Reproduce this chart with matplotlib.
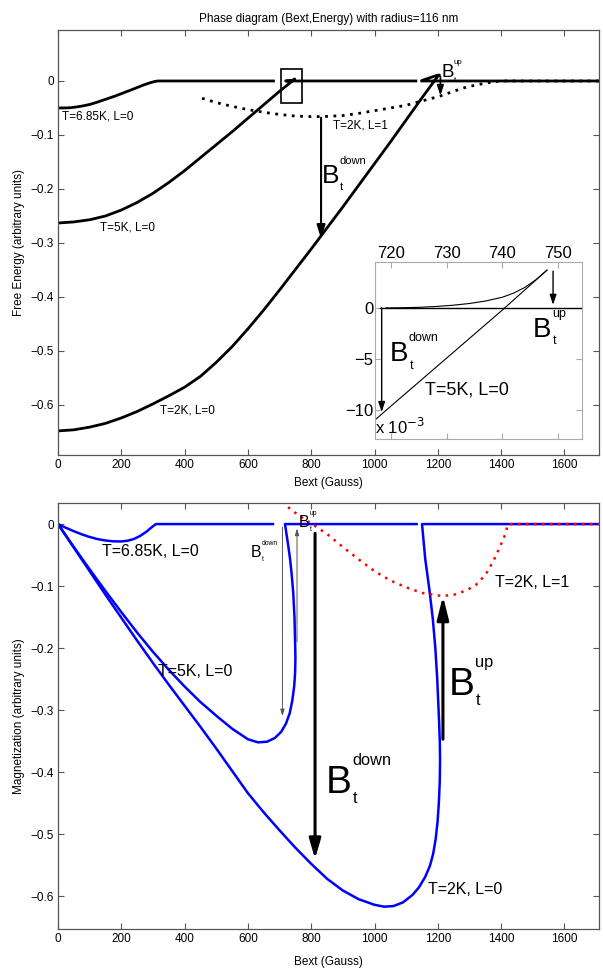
import matplotlib
matplotlib.use("Agg")
import matplotlib.pyplot as plt
from matplotlib.patches import Rectangle

plt.rcParams['font.family'] = ['Liberation Sans', 'DejaVu Sans']

# ---------------- data: top panel (free energy) ----------------
e685_B = [0, 20, 40, 60, 80, 100, 120, 140, 160, 180, 200, 220, 240, 255, 270, 280, 290, 305, 315, 685]
e685_E = [-0.0500, -0.0499, -0.0495, -0.0480, -0.0460, -0.0435, -0.0400, -0.0360, -0.0320,
          -0.0280, -0.0235, -0.0190, -0.0145, -0.0110, -0.0075, -0.0055, -0.0035, -0.0010, 0.0, 0.0]

e5_B = [0, 50, 100, 150, 200, 250, 300, 350, 400, 450, 500, 550, 600, 650, 700, 717, 748,
        744, 740, 735, 730, 725, 719, 1135]
e5_E = [-0.263, -0.261, -0.257, -0.250, -0.239, -0.225, -0.208, -0.188, -0.166, -0.142,
        -0.118, -0.094, -0.069, -0.044, -0.019, -0.011, 0.0037,
        0.0021, 0.0011, 0.0005, 0.0002, 0.00005, 0.0, 0.0]

e2_B = [0, 50, 100, 150, 200, 250, 300, 350, 400, 450, 500, 550, 600, 650, 700, 750, 800,
        850, 900, 950, 1000, 1050, 1100, 1150, 1200, 1205,
        1195, 1185, 1175, 1165, 1155, 1148, 1710]
e2_E = [-0.648, -0.646, -0.641, -0.634, -0.624, -0.612, -0.598, -0.583, -0.567, -0.547,
        -0.521, -0.492, -0.459, -0.424, -0.387, -0.349, -0.311, -0.272, -0.233, -0.193,
        -0.153, -0.113, -0.072, -0.031, 0.009, 0.011,
        0.010, 0.008, 0.006, 0.004, 0.002, 0.0, 0.0]

e2L1_B = [455, 500, 550, 600, 650, 700, 750, 800, 838, 900, 950, 1000, 1050, 1100, 1150,
          1207, 1250, 1292, 1350, 1397, 1710]
e2L1_E = [-0.032, -0.040, -0.047, -0.053, -0.058, -0.062, -0.065, -0.066, -0.066, -0.064,
          -0.060, -0.055, -0.050, -0.045, -0.037, -0.028, -0.019, -0.011, -0.004, 0.0, 0.0]

# inset (units of 1e-3)
in_norm_B = [718, 755]
in_norm_E = [0, 0]
in_stab_B = [716, 720, 730, 740, 748]
in_stab_E = [-11.5, -9.6, -4.9, -0.2, 3.7]
in_unst_B = [719, 722, 725, 728, 731, 734, 737, 740, 742, 744, 746, 748]
in_unst_E = [0.0, 0.02, 0.06, 0.14, 0.26, 0.43, 0.68, 1.05, 1.45, 2.0, 2.75, 3.7]

# ---------------- data: bottom panel (magnetization) ----------------
m685_B = [0, 25, 50, 75, 100, 125, 150, 175, 200, 220, 240, 260, 280, 295, 309, 683]
m685_M = [0, -0.006, -0.0115, -0.0165, -0.0208, -0.0242, -0.0265, -0.0278, -0.0280,
          -0.0268, -0.0240, -0.0190, -0.0120, -0.0055, 0, 0]

m5_B = [0, 50, 100, 150, 200, 250, 300, 350, 400, 450, 500, 550, 600, 632, 660, 685, 705,
        720, 732, 740, 746, 749, 750, 749, 747, 743, 738, 733, 726, 717, 1137]
m5_M = [0, -0.037, -0.073, -0.108, -0.142, -0.175, -0.206, -0.235, -0.262, -0.287, -0.309,
        -0.330, -0.347, -0.352, -0.351, -0.345, -0.335, -0.322, -0.305, -0.285, -0.262,
        -0.240, -0.215, -0.190, -0.150, -0.110, -0.080, -0.056, -0.030, 0, 0]

m2_B = [0, 50, 100, 150, 200, 250, 300, 350, 400, 450, 500, 550, 600, 650, 700, 750, 800,
        850, 900, 950, 1000, 1030, 1060, 1090, 1120, 1140, 1160, 1175, 1185, 1193, 1199,
        1203, 1206, 1207, 1206, 1204, 1201, 1198, 1192, 1184, 1173, 1160, 1150, 1710]
m2_M = [0, -0.038, -0.076, -0.114, -0.151, -0.188, -0.224, -0.259, -0.293, -0.327, -0.362,
        -0.398, -0.434, -0.465, -0.494, -0.522, -0.548, -0.572, -0.591, -0.605, -0.614,
        -0.617, -0.616, -0.610, -0.598, -0.586, -0.569, -0.551, -0.532, -0.508, -0.480,
        -0.450, -0.415, -0.380, -0.350, -0.320, -0.285, -0.250, -0.200, -0.153, -0.105,
        -0.056, 0, 0]

m2L1_B = [690, 700, 711, 730, 760, 790, 812, 850, 900, 950, 1000, 1050, 1100, 1150, 1213,
          1250, 1290, 1320, 1350, 1375, 1395, 1410, 1422, 1710]
m2L1_M = [0.045, 0.041, 0.035, 0.026, 0.014, 0.004, -0.003, -0.016, -0.037, -0.057, -0.076,
          -0.091, -0.102, -0.111, -0.116, -0.114, -0.107, -0.098, -0.082, -0.060, -0.038,
          -0.020, 0.0, 0.0]

xticks = [0, 200, 400, 600, 800, 1000, 1200, 1400, 1600]
yticks = [0, -0.1, -0.2, -0.3, -0.4, -0.5, -0.6]
ytick_labels = ['0', '\u22120.1', '\u22120.2', '\u22120.3', '\u22120.4', '\u22120.5', '\u22120.6']

W, H = 603, 968
fig = plt.figure(figsize=(W / 100, H / 100), dpi=100)

def frac(l, t, r, b):
    return [l / W, 1 - b / H, (r - l) / W, (b - t) / H]

SP = '#555555'

def style(ax):
    for s in ax.spines.values():
        s.set_color(SP)
        s.set_linewidth(0.9)
    ax.tick_params(direction='in', length=4, width=0.8, color=SP, top=True, right=True,
                   labelsize=8.5, pad=3)

def bt(ax, x, y, sup, fs, r=0.42):
    ax.annotate('B', (x, y), fontsize=fs, va='baseline', ha='left')
    ax.annotate(sup, (x, y), xytext=(0.68 * fs, 0.72 * fs), textcoords='offset points',
                fontsize=fs * r, va='baseline', ha='left')
    ax.annotate('t', (x, y), xytext=(0.70 * fs, -0.28 * fs), textcoords='offset points',
                fontsize=fs * r, va='baseline', ha='left')

def arrow(ax, tail, tip, lw, hw, hl, color='black'):
    ax.annotate('', xy=tip, xytext=tail,
                arrowprops=dict(arrowstyle='-|>,head_width=%g,head_length=%g' % (hw, hl),
                                lw=lw, color=color, shrinkA=0, shrinkB=0))

# ---------------- top axes ----------------
ax1 = fig.add_axes(frac(58, 30, 599, 455))
style(ax1)
lwk = 2.0
for bx, ey in ((e685_B, e685_E), (e5_B, e5_E), (e2_B, e2_E)):
    ax1.plot(bx, ey, color='black', lw=lwk, solid_capstyle='butt', solid_joinstyle='round')
ax1.plot(e2L1_B, e2L1_E, color='black', lw=2.0, ls=(0, (1, 2)))
ax1.set_xlim(0, 1709)
ax1.set_ylim(-0.6926, 0.0944)
ax1.set_xticks(xticks)
ax1.set_yticks(yticks)
ax1.set_yticklabels(ytick_labels)
ax1.set_xlabel('Bext (Gauss)', fontsize=8.5, labelpad=4)
ax1.set_ylabel('Free Energy (arbitrary units)', fontsize=8.5, labelpad=4)
ax1.set_title('Phase diagram (Bext,Energy) with radius=116 nm', fontsize=8.5, pad=6)
ax1.add_patch(Rectangle((703, -0.040), 67, 0.062, fill=False, ec='black', lw=1.2))
ax1.text(12, -0.066, 'T=6.85K, L=0', fontsize=8.5, va='center')
ax1.text(133, -0.272, 'T=5K, L=0', fontsize=8.5, va='center')
ax1.text(322, -0.61, 'T=2K, L=0', fontsize=8.5, va='center')
ax1.text(870, -0.082, 'T=2K, L=1', fontsize=8.5, va='center')
arrow(ax1, (831, -0.068), (831, -0.292), 1.5, 0.25, 0.8)
bt(ax1, 833, -0.188, 'down', 19)
arrow(ax1, (1208, 0.008), (1208, -0.027), 1.2, 0.2, 0.6)
bt(ax1, 1210, 0.007, 'up', 13.5)

# ---------------- inset ----------------
ax3 = fig.add_axes(frac(375, 262, 582, 439))
for s in ax3.spines.values():
    s.set_color('#aaaaaa')
    s.set_linewidth(0.8)
ax3.tick_params(direction='in', length=4, width=0.8, color='#aaaaaa', top=True, right=True,
                labeltop=True, labelbottom=False, labelsize=12, pad=1)
ax3.plot(in_norm_B, in_norm_E, color='black', lw=1.0)
ax3.plot(in_stab_B, in_stab_E, color='black', lw=0.8)
ax3.plot(in_unst_B, in_unst_E, color='black', lw=0.8)
ax3.set_xlim(717.1, 754.3)
ax3.set_ylim(-12.84, 4.5)
ax3.set_xticks([720, 730, 740, 750])
ax3.set_yticks([0, -5, -10])
ax3.set_yticklabels(['0', '\u22125', '\u221210'])
ax3.text(0.0, 0.01, 'x 10$^{-3}$', transform=ax3.transAxes, fontsize=12, va='bottom')
arrow(ax3, (718.3, 0), (718.3, -10.2), 1.0, 0.2, 0.6)
arrow(ax3, (749.1, 3.6), (749.1, 0.3), 1.0, 0.2, 0.6)
bt(ax3, 719.8, -5.2, 'down', 20, r=0.45)
bt(ax3, 745.5, -2.8, 'up', 20, r=0.45)
ax3.text(726, -8.0, 'T=5K, L=0', fontsize=13, va='center')

# ---------------- bottom axes ----------------
ax2 = fig.add_axes(frac(58, 503, 599, 929))
style(ax2)
lwb = 1.8
for bx, my in ((m685_B, m685_M), (m5_B, m5_M), (m2_B, m2_M)):
    ax2.plot(bx, my, color='#0000ff', lw=lwb, solid_capstyle='butt', solid_joinstyle='round')
ax2.plot(m2L1_B, m2L1_M, color='red', lw=1.8, ls=(0, (1, 2.2)))
ax2.set_xlim(0, 1709)
ax2.set_ylim(-0.653, 0.034)
ax2.set_xticks(xticks)
ax2.set_yticks(yticks)
ax2.set_yticklabels(ytick_labels)
ax2.set_xlabel('Bext (Gauss)', fontsize=8.5, labelpad=8)
ax2.set_ylabel('Magnetization (arbitrary units)', fontsize=8.5, labelpad=4)
ax2.text(140, -0.045, 'T=6.85K, L=0', fontsize=11.5, va='center')
ax2.text(315, -0.237, 'T=5K, L=0', fontsize=11.5, va='center')
ax2.text(1380, -0.095, 'T=2K, L=1', fontsize=11.5, va='center')
ax2.text(1170, -0.59, 'T=2K, L=0', fontsize=11.5, va='center')
# thin grey arrows
arrow(ax2, (709, -0.005), (709, -0.31), 0.7, 0.12, 0.4, color='#555555')
arrow(ax2, (755, -0.19), (755, -0.007), 0.7, 0.12, 0.4, color='#555555')
bt(ax2, 610, -0.053, 'down', 11.5)
bt(ax2, 760, -0.004, 'up', 11.5)
# thick arrows
arrow(ax2, (812, -0.015), (812, -0.54), 2.2, 0.35, 1.2)
bt(ax2, 845, -0.433, 'down', 28, r=0.42)
arrow(ax2, (1216, -0.347), (1216, -0.116), 2.2, 0.35, 1.4)
bt(ax2, 1235, -0.275, 'up', 28, r=0.42)

fig.savefig('out.png', dpi=100)
